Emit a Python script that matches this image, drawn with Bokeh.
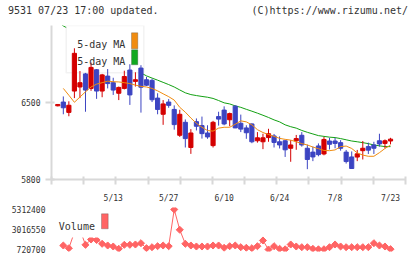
import numpy as np
import pandas as pd
from bokeh.plotting import figure
from bokeh.layouts import column
from bokeh.models import (ColumnDataSource, FixedTicker, NumeralTickFormatter,
                          BoxAnnotation, Label, Range1d, Div)
from bokeh.embed import file_html
from bokeh.resources import INLINE

# Trading calendar (TSE, 2024)
holidays = ["2024-04-29", "2024-05-03", "2024-05-06", "2024-07-15"]
trade_days = [d for d in pd.bdate_range("2024-04-24", "2024-07-23")
              if d.strftime("%Y-%m-%d") not in holidays]
date_labels = [f"{d.month}/{d.day}" for d in trade_days]
axis_dates = ["5/13", "5/27", "6/10", "6/24", "7/8", "7/23"]

header_left = "9531 07/23 17:00 updated."
header_right = "(C)https://www.rizumu.net/"

# Daily prices
opens = [6470, 6504, 6410, 6604, 6641, 6760, 6628, 6798, 6604, 6740,
         6680, 6584, 6628, 6795, 6692, 6813, 6707, 6701, 6540, 6393,
         6504, 6437, 6202, 6320, 6091, 6326, 6290, 6223, 6108, 6372,
         6431, 6343, 6467, 6311, 6269, 6305, 6152, 6143, 6181, 6196,
         6143, 6152, 6084, 6152, 6202, 6084, 6049, 6105, 6032, 6150,
         6150, 6135, 6049, 6005, 6004, 6062, 6099, 6114, 6152, 6128,
         6150]
highs = [6485, 6555, 6511, 6993, 6786, 6769, 6863, 6804, 6760, 6804,
         6725, 6645, 6789, 6848, 6775, 6839, 6733, 6716, 6584, 6522,
         6531, 6474, 6434, 6346, 6258, 6355, 6372, 6293, 6333, 6416,
         6465, 6408, 6475, 6390, 6293, 6311, 6231, 6216, 6261, 6214,
         6192, 6158, 6158, 6205, 6231, 6117, 6099, 6128, 6187, 6179,
         6179, 6158, 6069, 6055, 6069, 6150, 6135, 6143, 6216, 6164,
         6179]
lows = [6465, 6393, 6375, 6540, 6540, 6416, 6606, 6533, 6548, 6628,
        6569, 6522, 6619, 6478, 6645, 6408, 6650, 6504, 6393, 6297,
        6452, 6253, 6187, 6091, 6033, 6246, 6172, 6170, 6091, 6290,
        6293, 6284, 6267, 6231, 6170, 6130, 6135, 6076, 6143, 6091,
        6082, 6005, 5961, 6070, 6099, 5894, 5967, 6011, 6020, 6073,
        6084, 6062, 5945, 5897, 5967, 5982, 6032, 6032, 6099, 6084,
        6120]
closes = [6482, 6452, 6475, 6947, 6680, 6613, 6819, 6604, 6751, 6672,
          6613, 6637, 6736, 6569, 6707, 6639, 6657, 6525, 6437, 6487,
          6474, 6299, 6393, 6172, 6223, 6284, 6217, 6187, 6320, 6349,
          6305, 6399, 6269, 6258, 6225, 6143, 6179, 6179, 6216, 6137,
          6114, 6070, 6114, 6172, 6114, 5982, 6005, 6026, 6164, 6120,
          6128, 6084, 5963, 5900, 6033, 6084, 6067, 6084, 6123, 6152,
          6167]

# Moving averages
ma_short = [np.nan, 6628, 6566, 6502, 6550, 6597, 6641, 6667, 6680, 6694,
            6689, 6687, 6680, 6672, 6658, 6647, 6641, 6628, 6606, 6579,
            6553, 6522, 6456, 6412, 6359, 6311, 6275, 6245, 6240, 6267,
            6275, 6275, 6302, 6333, 6324, 6297, 6253, 6227, 6209, 6192,
            6174, 6165, 6158, 6143, 6126, 6114, 6095, 6080, 6064, 6062,
            6069, 6099, 6104, 6082, 6042, 6022, 6011, 6011, 6044, 6082,
            6113]
ma_long = [7235, 7196, 7169, 7138, 7108, 7077, 7042, 7011, 6980, 6949,
           6918, 6887, 6857, 6826, 6795, 6769, 6742, 6722, 6703, 6683,
           6663, 6641, 6614, 6588, 6572, 6563, 6555, 6548, 6537, 6518,
           6497, 6487, 6469, 6456, 6438, 6421, 6403, 6384, 6364, 6342,
           6324, 6297, 6280, 6267, 6246, 6229, 6214, 6199, 6192, 6185,
           6181, 6172, 6161, 6150, 6143, 6135, 6126, 6114, 6106, 6099,
           6099]

# Daily volume
volume = [np.nan, 1180000, 870000, 2700000, 3000000, 1260000, 1870000, 1810000,
          1375000, 1180000, 1065000, 800000, 1260000, 1260000, 1295000, 1444000,
          870000, 985000, 1100000, 1180000, 1100000, 5312400, 2982000, 1375000,
          1180000, 1065000, 1065000, 1065000, 1180000, 1180000, 916000, 1100000,
          1180000, 985000, 916000, 870000, 1100000, 1754000, 720700, 1100000,
          800000, 740000, 1295000, 1065000, 985000, 985000, 800000, 745000,
          750000, 985000, 1295000, 1065000, 985000, 985000, 985000, 985000,
          985000, 1444000, 1180000, 1065000, 760000]

UP, DOWN = "#d40000", "#3c44c2"
AXIS = "#d8d8d8"
TEXT = "#333333"
FONT = "DejaVu Sans Mono"

idx = np.arange(len(closes))
o, h, l, c = map(np.asarray, (opens, highs, lows, closes))
candles = ColumnDataSource(dict(
    x=idx, high=h, low=l,
    top=np.maximum(o, c), bottom=np.minimum(o, c),
    color=[UP if cc >= oo else DOWN for oo, cc in zip(o, c)],
))

x_range = Range1d(-1.13, 62.7)


def sbox(**kw):
    return BoxAnnotation(left_units="screen", right_units="screen",
                         top_units="screen", bottom_units="screen", **kw)


def bare(fig):
    fig.outline_line_color = None
    fig.grid.visible = False
    return fig


# ---- header line ----
span_css = "position:absolute;top:5px;white-space:nowrap;line-height:12px;"
hdr = Div(
    text=(f'<div style="position:relative;width:420px;height:25px;'
          f"font-family:'{FONT}';font-size:10px;color:{TEXT};\">"
          f'<span style="{span_css}left:8px;">{header_left}</span>'
          f'<span style="{span_css}right:12px;">{header_right}</span></div>'),
    width=420, height=25, margin=(0, 0, 0, 0))

# ---- price panel ----
p = bare(figure(width=420, height=180, x_range=x_range, y_range=Range1d(5800, 7200),
                output_backend="svg", toolbar_location=None, title=None,
                min_border_left=51, min_border_right=15,
                min_border_top=0, min_border_bottom=21))

p.line(idx, ma_long, line_color="#12a012", line_width=1, level="image")
p.segment(x0="x", y0="low", x1="x", y1="high", line_color="color",
          line_width=1, source=candles)
p.vbar(x="x", width=0.75, top="top", bottom="bottom", fill_color="color",
       line_color="color", line_width=1, source=candles)
p.line(idx, ma_short, line_color="#f08c10", line_width=1)

tick_pos = [date_labels.index(s) for s in axis_dates]
grid_marks = list(np.linspace(x_range.start + 1e-6, x_range.end - 1e-6, 12))
xa = p.xaxis[0]
xa.ticker = FixedTicker(ticks=tick_pos, minor_ticks=grid_marks)
xa.major_label_overrides = {i: date_labels[i] for i in tick_pos}
xa.major_tick_line_color = None
xa.major_tick_in = 0
xa.major_tick_out = 0
xa.minor_tick_line_color = AXIS
xa.minor_tick_line_width = 2
xa.minor_tick_in = 3
xa.minor_tick_out = 5
xa.axis_line_color = AXIS
xa.axis_line_width = 2
xa.major_label_standoff = 9
xa.major_label_text_font = FONT
xa.major_label_text_font_size = "8px"
xa.major_label_text_color = TEXT

ya = p.yaxis[0]
ya.ticker = FixedTicker(ticks=[5800, 6500])
ya.axis_line_color = AXIS
ya.axis_line_width = 2
ya.major_tick_line_color = AXIS
ya.major_tick_line_width = 2
ya.major_tick_in = 3
ya.major_tick_out = 6
ya.major_label_standoff = 5
ya.major_label_text_font = FONT
ya.major_label_text_font_size = "8px"
ya.major_label_text_color = TEXT

# legend panel
p.add_layout(sbox(left=14.7, right=92.3, top=154, bottom=106.7,
                  fill_color="white", fill_alpha=1.0,
                  line_color="#d4d4d4", line_width=1.5, level="underlay"))
for ytxt in (135, 118.5):
    p.add_layout(Label(x=25.7, y=ytxt, x_units="screen", y_units="screen",
                       text="5-day MA", text_font=FONT, text_font_size="10px",
                       text_color=TEXT, text_baseline="alphabetic"))
p.add_layout(sbox(left=80, right=86.3, top=146.7, bottom=130.7,
                  fill_color="#f08c10", fill_alpha=1.0, line_color="#444444", line_width=1))
p.add_layout(sbox(left=80, right=86.3, top=129.7, bottom=114.7,
                  fill_color="#12a820", fill_alpha=1.0, line_color="#444444", line_width=1))

# ---- volume panel ----
vol = np.asarray(volume, dtype=float)
vmin, vmax = np.nanmin(vol), np.nanmax(vol)
span = vmax - vmin
v = bare(figure(width=420, height=54, x_range=x_range,
                y_range=Range1d(vmin - span * 0.05, vmax + span * 0.05),
                output_backend="svg", toolbar_location=None, title=None,
                x_axis_location=None,
                min_border_left=51, min_border_right=15,
                min_border_top=2, min_border_bottom=8))

v.line(idx, vol, line_color="#ff6464", line_width=1, level="image")
v.scatter(idx, vol, marker="square", angle=np.pi / 4, size=5,
          fill_color="#ff6464", line_color="#ff6464", level="image")

vy = v.yaxis[0]
vy.ticker = FixedTicker(ticks=[vmin, (vmin + vmax) / 2, vmax])
vy.formatter = NumeralTickFormatter(format="0")
vy.axis_line_color = None
vy.major_tick_line_color = None
vy.major_tick_in = 0
vy.major_tick_out = 0
vy.major_label_standoff = 6
vy.major_label_text_font = FONT
vy.major_label_text_font_size = "8px"
vy.major_label_text_color = TEXT

v.add_layout(sbox(left=4, right=60, top=44, bottom=14, fill_color="white",
                  fill_alpha=1.0, line_color=None, level="underlay"))
v.add_layout(Label(x=7.3, y=24.7, x_units="screen", y_units="screen",
                   text="Volume", text_font=FONT, text_font_size="10px",
                   text_color=TEXT, text_baseline="alphabetic"))
v.add_layout(sbox(left=50, right=56.7, top=37.7, bottom=22.7,
                  fill_color="#ff6464", fill_alpha=1.0, line_color="#444444", line_width=1))

layout = column(hdr, p, v)
open("out.html", "w").write(file_html(layout, INLINE))
